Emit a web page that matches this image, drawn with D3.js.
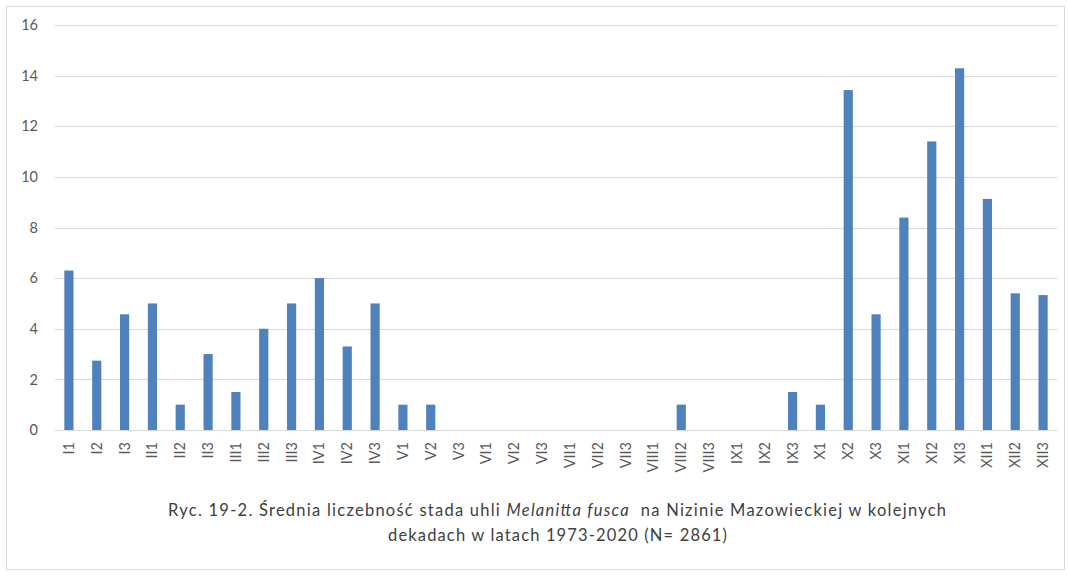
<!DOCTYPE html>
<html><head><meta charset="utf-8">
<script src="https://cdn.jsdelivr.net/npm/d3@7"></script>
<style>body{margin:0;background:#fff;} svg{display:block;}</style>
</head><body>
<svg id="c" width="1069" height="575"></svg>
<script>
const categories = ["I1","I2","I3","II1","II2","II3","III1","III2","III3","IV1","IV2","IV3","V1","V2","V3","VI1","VI2","VI3","VII1","VII2","VII3","VIII1","VIII2","VIII3","IX1","IX2","IX3","X1","X2","X3","XI1","XI2","XI3","XII1","XII2","XII3"];
const values = [6.3,2.74,4.57,5,1,3,1.5,4,5,6,3.3,5,1,1,0,0,0,0,0,0,0,0,1,0,0,0,1.5,1,13.43,4.57,8.39,11.4,14.29,9.13,5.4,5.33];
const yTicks = [0,2,4,6,8,10,12,14,16];
const captionLine1 = ["Ryc. 19-2. Średnia liczebność stada uhli ", "Melanitta fusca", "  na Nizinie Mazowieckiej w kolejnych"];
const captionLine2 = "dekadach w latach 1973-2020 (N= 2861)";

const svg = d3.select("#c");
const font = "Lato, 'Open Sans', sans-serif";
svg.append("rect").attr("x",6.5).attr("y",6.5).attr("width",1058).attr("height",563)
  .attr("fill","#fff").attr("stroke","#d9d9d9");

const x = d3.scaleBand().domain(categories).range([55,1057]).paddingInner(0.67).paddingOuter(0.335);
const y = d3.scaleLinear().domain([0,16]).range([430,25]);

const g = svg.append("g");
g.selectAll("line.grid").data(yTicks).join("line").attr("class","grid")
  .attr("x1",55).attr("x2",1057).attr("y1",d=>Math.round(y(d))+0.5).attr("y2",d=>Math.round(y(d))+0.5)
  .attr("stroke","#d9d9d9").attr("stroke-width",1);

const yAxis = g.append("g").attr("transform","translate(55,0)")
  .call(d3.axisLeft(y).tickValues(yTicks).tickSize(0).tickPadding(17));
yAxis.select(".domain").remove();
yAxis.selectAll("text").attr("font-family",font).attr("font-size",14.5).attr("fill","#595959");

g.selectAll("rect.bar").data(values).join("rect").attr("class","bar")
  .attr("x",(d,i)=>x(categories[i])).attr("width",x.bandwidth())
  .attr("y",d=>y(d)).attr("height",d=>y(0)-y(d))
  .attr("fill","#4f81bd");

const xAxis = g.append("g").attr("transform","translate(0,430)")
  .call(d3.axisBottom(x).tickSize(0).tickPadding(0));
xAxis.select(".domain").attr("stroke","#d9d9d9");
xAxis.selectAll("text").attr("font-family",font).attr("font-size",14.5).attr("fill","#595959")
  .attr("transform","rotate(-90)").attr("text-anchor","end").attr("dy","0.35em").attr("x",-12).attr("y",0);

const cap = svg.append("g").attr("font-family",font).attr("font-size",16.5).attr("fill","#404040").attr("text-anchor","start");
const t1 = cap.append("text").attr("x",168).attr("y",516).attr("textLength",778).attr("lengthAdjust","spacing").attr("xml:space","preserve");
t1.append("tspan").text(captionLine1[0]);
t1.append("tspan").attr("font-style","italic").text(captionLine1[1]);
t1.append("tspan").text(captionLine1[2]);
cap.append("text").attr("x",388).attr("y",541).attr("textLength",339).attr("lengthAdjust","spacing").text(captionLine2);
</script>
</body></html>
